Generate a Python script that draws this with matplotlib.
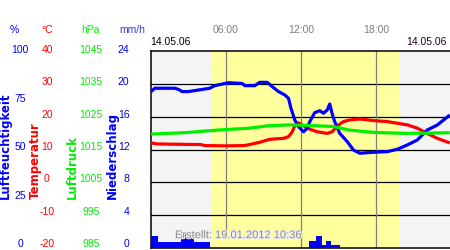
import matplotlib
matplotlib.use("Agg")
import matplotlib.pyplot as plt
import matplotlib.transforms as mtransforms
import matplotlib.patheffects as pe
import numpy as np

# ---------------- data ----------------
hum_hours = [0, 0.3, 1.9, 2.2, 2.5, 3.0, 3.8, 4.7, 5.1, 6.2, 7.3, 7.5, 8.3, 8.7, 9.3,
             9.7, 10.2, 10.7, 11.0, 11.2, 11.5, 11.8, 12.2, 12.5, 12.7, 13.1, 13.5,
             13.8, 14.1, 14.3, 14.5, 14.7, 15.1, 15.7, 16.2, 16.7, 17.8, 18.9, 19.7,
             20.5, 21.3, 22.1, 22.9, 23.9]
humidity = [79.4, 81.1, 81.1, 80.5, 79.4, 79.4, 80.2, 81.1, 82.4, 83.9, 83.5, 82.4,
            82.4, 84.1, 84.1, 81.9, 79.4, 77.7, 76.0, 70.9, 65.0, 61.6, 59.0, 60.8,
            64.1, 68.7, 69.7, 68.4, 70.1, 73.1, 68.0, 64.1, 58.2, 54.0, 49.7, 48.1,
            48.6, 48.9, 50.1, 52.3, 54.8, 59.9, 62.4, 67.5]

temp_hours = [0, 0.5, 2, 4, 4.3, 6, 7.5, 8, 8.7, 9.5, 10.6, 11.0, 11.3, 11.5, 11.8,
              12.2, 12.7, 13.3, 14.1, 14.5, 14.9, 15.4, 15.9, 16.7, 17.8, 18.9, 19.7,
              20.5, 21.3, 22.1, 22.9, 23.9]
temperature = [12.0, 11.7, 11.6, 11.5, 11.2, 11.1, 11.2, 11.6, 12.2, 13.1, 13.4, 13.9,
               15.4, 17.2, 18.1, 17.2, 16.2, 15.4, 14.9, 15.4, 17.2, 18.5, 19.0, 19.3,
               18.8, 18.5, 18.0, 17.5, 16.5, 14.9, 13.4, 12.0]

press_hours = [0, 2.6, 5.3, 7.9, 9.3, 11.1, 12.7, 14.6, 15.9, 17.8, 20.5, 23.9]
pressure = [1019.7, 1020.1, 1020.9, 1021.5, 1022.2, 1022.5, 1022.3, 1022.0, 1020.9,
            1020.2, 1019.9, 1020.1]

precip_start = [0, 0.56, 2.4, 3.4, 12.6, 13.2, 13.7, 14.0, 14.4]
precip_end = [0.56, 2.4, 3.4, 4.7, 13.2, 13.7, 14.0, 14.4, 15.1]
precip = [1.5, 0.75, 2.0, 0.75, 0.9, 1.5, 0.4, 0.9, 0.4]

daylight = (4.8, 19.9)
time_ticks = [6, 12, 18]
time_labels = ["06:00", "12:00", "18:00"]
date_left = "14.05.06"
date_right = "14.05.06"
created = "Erstellt: 19.01.2012 10:36"

hum_ticks = [100, 75, 50, 25, 0]
temp_ticks = [40, 30, 20, 10, 0, -10, -20]
press_ticks = [1045, 1035, 1025, 1015, 1005, 995, 985]
rain_ticks = [24, 20, 16, 12, 8, 4, 0]
hum_lim = (0, 100)
temp_lim = (-20, 40)
press_lim = (985, 1045)
rain_lim = (0, 24)

# ---------------- colors / styles ----------------
BLUE = "#0000ff"
RED = "#ff0000"
GREEN = "#00ee00"
GRAY = "#808080"
FONT = "Liberation Sans"
FS = 7.5

W, H = 450, 250
fig = plt.figure(figsize=(W / 100, H / 100), dpi=100)
fig.patch.set_facecolor("white")

left_px, right_px, top_px, bot_px = 151, 450, 51, 248
ax = fig.add_axes([left_px / W, 1 - bot_px / H, (right_px - left_px) / W, (bot_px - top_px) / H])
ax.set_facecolor("#f4f4f4")
xlim = (0, 23.92)
ax.set_xlim(*xlim)
ax.set_ylim(*hum_lim)
ax.axvspan(daylight[0], daylight[1], color="#ffff9e", lw=0, zorder=0)
for v in np.linspace(hum_lim[0], hum_lim[1], 7)[1:-1]:
    ax.axhline(v, color="black", lw=0.9, zorder=1)
for t in time_ticks:
    ax.axvline(t, color=GRAY, lw=0.9, zorder=1, ymin=0.09 if t == 6 else 0)
ax.set_xticks([])
ax.set_yticks([])
for s in ["left", "top", "bottom"]:
    ax.spines[s].set_linewidth(1.1)
ax.spines["right"].set_visible(False)


def twin(lim):
    a = ax.twinx()
    a.set_ylim(*lim)
    a.set_xlim(*xlim)
    a.set_yticks([])
    for s in a.spines.values():
        s.set_visible(False)
    return a


ax_r = twin(rain_lim)
widths = np.array(precip_end) - np.array(precip_start)
ax_r.bar(precip_start, precip, width=widths, align="edge", color=BLUE, lw=0, zorder=2)

ax_t = twin(temp_lim)
ax_t.plot(temp_hours, temperature, color=RED, lw=2.3, solid_capstyle="butt")

ax_h = twin(hum_lim)
ax_h.plot(hum_hours, humidity, color=BLUE, lw=2.3, solid_capstyle="butt")

ax_p = twin(press_lim)
ax_p.plot(press_hours, pressure, color=GREEN, lw=2.3, solid_capstyle="butt")

ax_p.text(0.08, 0.065, created, transform=ax_p.transAxes, fontsize=8, family=FONT,
          color="#8a8a8a", va="center", ha="left",
          path_effects=[pe.withStroke(linewidth=1.5, foreground="#f0f0f0")])

# ---------------- left scales ----------------
tr = mtransforms.blended_transform_factory(fig.transFigure, ax.transAxes)


def col(ticks, lim, xpx, color, ha="center"):
    for v in ticks:
        f = (v - lim[0]) / (lim[1] - lim[0])
        y = 0.02 + 0.985 * f
        fig.text(xpx / W, y, str(v), transform=tr, fontsize=FS, family=FONT,
                 color=color, ha=ha, va="center")


col(hum_ticks, hum_lim, 20, BLUE)
col(temp_ticks, temp_lim, 47, RED)
col(press_ticks, press_lim, 91, GREEN)
col(rain_ticks, rain_lim, 129.5, "#0000dd", ha="right")

yu = 1 - 30 / H
fig.text(14 / W, yu, "%", fontsize=FS, family=FONT, color=BLUE, ha="center", va="center")
fig.text(47 / W, yu, "°C", fontsize=FS, family=FONT, color=RED, ha="center", va="center")
fig.text(90 / W, yu, "hPa", fontsize=FS, family=FONT, color=GREEN, ha="center", va="center")
fig.text(132 / W, yu, "mm/h", fontsize=FS, family=FONT, color="#3a3ad8", ha="center", va="center")

yb = 1 - 199 / H
rot_kw = dict(rotation=90, fontsize=8.5, family="DejaVu Sans", fontweight="bold",
              ha="center", va="bottom")
fig.text(5 / W, yb, "Luftfeuchtigkeit", color=BLUE, **rot_kw)
fig.text(35 / W, yb, "Temperatur", color=RED, **rot_kw)
fig.text(72 / W, yb, "Luftdruck", color=GREEN, **rot_kw)
fig.text(112 / W, yb, "Niederschlag", color=BLUE, **rot_kw)

# ---------------- top labels ----------------
trx = mtransforms.blended_transform_factory(ax.transData, fig.transFigure)
for t, lab in zip(time_ticks, time_labels):
    fig.text(t, 1 - 30 / H, lab, transform=trx, fontsize=FS, family=FONT, color=GRAY,
             ha="center", va="center")
fig.text(150 / W, 1 - 42 / H, date_left, fontsize=FS, family=FONT, color="black",
         ha="left", va="center")
fig.text(447 / W, 1 - 42 / H, date_right, fontsize=FS, family=FONT, color="#220022",
         ha="right", va="center")

fig.savefig("out.png", dpi=100)
